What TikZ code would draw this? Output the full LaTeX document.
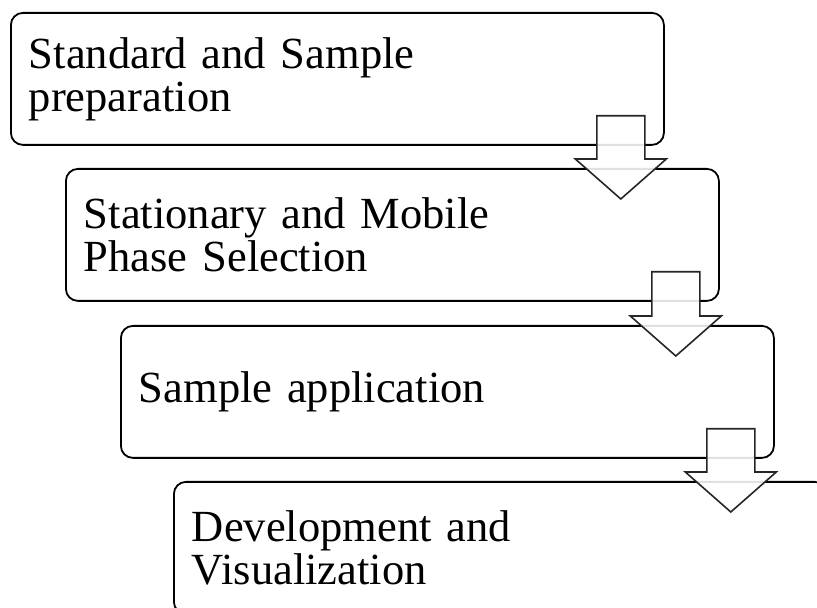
\documentclass[tikz,border=0pt]{standalone}
\usepackage{fontspec}
\setmainfont[WordSpace=0.8]{Liberation Serif}
\usetikzlibrary{calc}
\tikzstyle{stepbox}   = [draw=black, line width=1.8pt, rounded corners=12pt, anchor=north west, text width=617pt, inner xsep=18pt, inner ysep=0pt, minimum height=132pt, align=left, font=\fontsize{44.5}{43}\selectfont]
\tikzstyle{downblock} = [draw=black!85, line width=1.6pt, fill=white, fill opacity=0.88, line join=miter]

\newcommand{\flowarrow}[2]{%
	\draw[downblock] let \p1=(#1.south east), \p2=(#2.north) in
		(\x1-68pt,\y1+30pt) -- (\x1-20pt,\y1+30pt) -- (\x1-20pt,\y2+9pt) -- (\x1+1.5pt,\y2+9pt)
		-- (\x1-44pt,\y2-31pt) -- (\x1-89.5pt,\y2+9pt) -- (\x1-68pt,\y2+9pt) -- cycle;}

\begin{document}
\begin{tikzpicture}[x=1pt,y=1pt]
		\clip (0,0) rectangle (817,608);
		\fill[white] (0,0) rectangle (817,608);

		\node[stepbox] (prep)   at (10,596)  {Standard and Sample\\preparation};
		\node[stepbox] (phase)  at (65,440)  {Stationary and Mobile\\Phase Selection};
		\node[stepbox] (apply)  at (120,283) {Sample application};
		\node[stepbox] (visual) at (173,127) {Development and\\Visualization};

		\flowarrow{prep}{phase}
		\flowarrow{phase}{apply}
		\flowarrow{apply}{visual}
	\end{tikzpicture}
\end{document}
